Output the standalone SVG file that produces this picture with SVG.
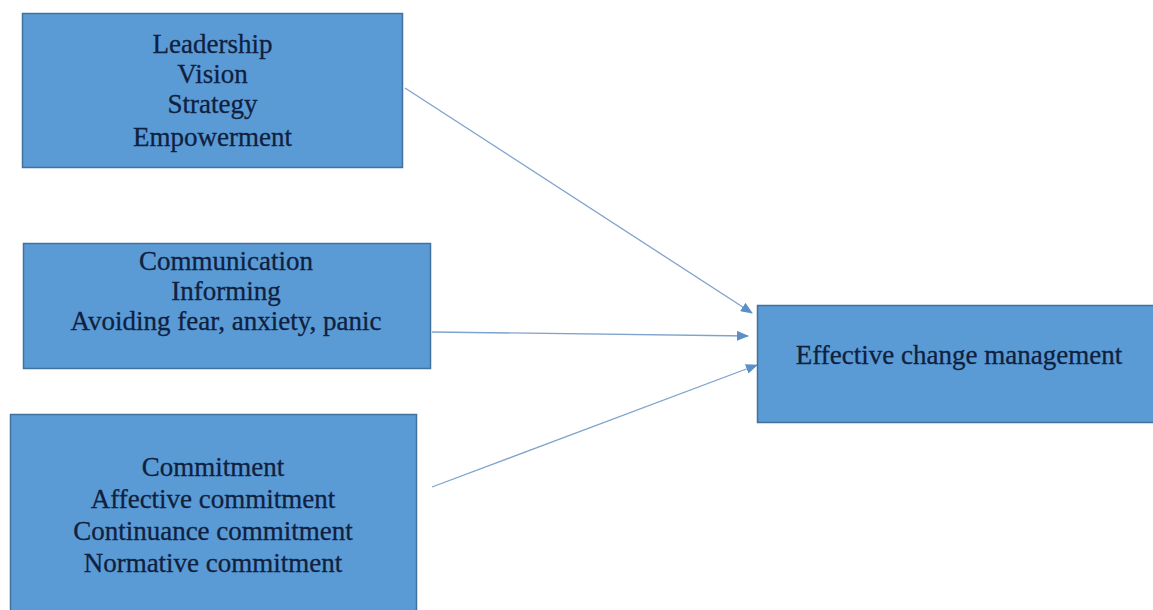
<svg xmlns="http://www.w3.org/2000/svg" width="1153" height="610" viewBox="0 0 1153 610">
<defs>
<style>
.box{fill:#5b9bd5;stroke:#41719c;stroke-width:1.5}
.t{font-family:"Liberation Serif","Times New Roman",serif;font-size:27px;fill:#0f213f;stroke:#0f213f;stroke-width:0.3;text-anchor:middle}
.c{stroke:#7fa3cc;stroke-width:1.3;fill:none}
</style>
<marker id="ah" markerWidth="12" markerHeight="10" refX="11" refY="5" orient="auto" markerUnits="userSpaceOnUse">
<path d="M0,0 L12,5 L0,10 Z" fill="#5b8fc8"/>
</marker>
</defs>
<rect width="1153" height="610" fill="#ffffff"/>
<g id="connectors">
<line class="c" x1="405" y1="88" x2="752" y2="313" marker-end="url(#ah)"/>
<line class="c" x1="432" y1="332" x2="748" y2="336" marker-end="url(#ah)"/>
<line class="c" x1="432" y1="487" x2="757" y2="365" marker-end="url(#ah)"/>
</g>
<g id="leadership">
<rect class="box" x="22.5" y="13.5" width="380" height="154"/>
<text class="t" x="212.5" y="53">Leadership</text>
<text class="t" x="212.5" y="83">Vision</text>
<text class="t" x="212.5" y="113">Strategy</text>
<text class="t" x="212.5" y="146">Empowerment</text>
</g>
<g id="communication">
<rect class="box" x="23.5" y="243.5" width="407" height="125"/>
<text class="t" x="226" y="270">Communication</text>
<text class="t" x="226" y="300">Informing</text>
<text class="t" x="226" y="330">Avoiding fear, anxiety, panic</text>
</g>
<g id="commitment">
<rect class="box" x="10.5" y="414.5" width="406" height="210"/>
<text class="t" x="213" y="476">Commitment</text>
<text class="t" x="213" y="508">Affective commitment</text>
<text class="t" x="213" y="540">Continuance commitment</text>
<text class="t" x="213" y="572">Normative commitment</text>
</g>
<g id="effective">
<rect class="box" x="757.5" y="305.5" width="410" height="117"/>
<text class="t" x="959" y="364">Effective change management</text>
</g>
</svg>
